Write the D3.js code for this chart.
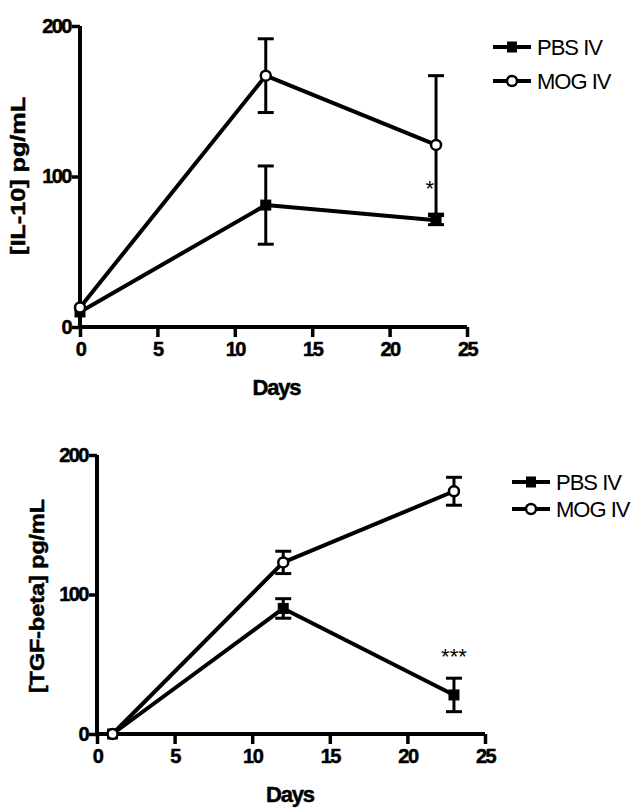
<!DOCTYPE html>
<html>
<head>
<meta charset="utf-8">
<script src="https://cdn.jsdelivr.net/npm/d3@7"></script>
<style>
  body { margin: 0; background: #fff; }
  svg { display: block; }
</style>
</head>
<body>
<svg id="chart" width="635" height="809"></svg>
<script>
// IL-10 panel
const il10Days = [0, 12, 23];
const il10Pbs = [10, 81, 71];
const il10PbsErr = [0, 26, 3];
const il10Mog = [13, 167, 121];
const il10MogErr = [0, 24.5, 46];

// TGF-beta panel
const tgfDays = [1, 12, 23];
const tgfPbs = [0, 90, 28];
const tgfPbsErr = [0, 7, 12];
const tgfMog = [0, 123, 174];
const tgfMogErr = [0, 8, 10];

const xTicks = [0, 5, 10, 15, 20, 25];
const yTicks = [0, 100, 200];
const seriesNames = ["PBS IV", "MOG IV"];

const svg = d3.select("#chart");
const fontFamily = "'Liberation Sans', Arial, sans-serif";

function drawPanel(opts) {
    const x = d3.scaleLinear().domain([0, 25]).range([opts.left, opts.right]);
    const y = d3.scaleLinear().domain([0, 200]).range([opts.bottom, opts.top]);
    const g = svg.append("g");

    const lineGenerator = d3.line()
        .x(d => x(d.day))
        .y(d => y(d.value));

    const pbs = opts.days.map((d, i) => ({day: d, value: opts.pbs[i], err: opts.pbsErr[i]}));
    const mog = opts.days.map((d, i) => ({day: d, value: opts.mog[i], err: opts.mogErr[i]}));

    // error bars
    [pbs, mog].forEach(series => {
        series.filter(d => d.err > 0).forEach(d => {
            const cx = x(d.day);
            g.append("line")
                .attr("x1", cx).attr("x2", cx)
                .attr("y1", y(d.value + d.err)).attr("y2", y(d.value - d.err))
                .attr("stroke", "#000").attr("stroke-width", 3);
            [d.value + d.err, d.value - d.err].forEach(v => {
                g.append("line")
                    .attr("x1", cx - 8).attr("x2", cx + 8)
                    .attr("y1", y(v)).attr("y2", y(v))
                    .attr("stroke", "#000").attr("stroke-width", 3);
            });
        });
    });

    // lines
    [pbs, mog].forEach(series => {
        g.append("path")
            .attr("d", lineGenerator(series))
            .attr("fill", "none")
            .attr("stroke", "#000")
            .attr("stroke-width", 4)
            .attr("stroke-linejoin", "round");
    });

    // axes
    const xAxis = d3.axisBottom(x).tickValues(xTicks).tickSize(10).tickSizeOuter(0).tickPadding(5);
    const yAxis = d3.axisLeft(y).tickValues(yTicks).tickSize(8).tickSizeOuter(0).tickPadding(1);

    const gx = g.append("g").attr("transform", `translate(0,${opts.bottom})`).call(xAxis);
    const gy = g.append("g").attr("transform", `translate(${opts.left},0)`).call(yAxis);
    [gx, gy].forEach(ax => {
        ax.select(".domain").attr("stroke-width", 4).attr("stroke", "#000");
        ax.selectAll(".tick line").attr("stroke-width", 3.5).attr("stroke", "#000");
        ax.selectAll(".tick text")
            .attr("fill", "#000")
            .attr("stroke", "#000")
            .attr("stroke-width", 0.5)
            .style("font-family", fontFamily)
            .style("font-weight", "bold")
            .style("font-size", "20px")
            .style("letter-spacing", "-1.5px");
    });
    gx.select(".domain").attr("d", `M${opts.left - 2},0H${opts.right}`);
    gy.select(".domain").attr("d", `M0,${opts.top}V${opts.bottom + 2}`);

    // markers
    g.selectAll(".pbs-marker")
        .data(pbs)
        .join("rect")
        .attr("x", d => x(d.day) - 5.5)
        .attr("y", d => y(d.value) - 5.5)
        .attr("width", 11).attr("height", 11)
        .attr("fill", "#000");
    g.selectAll(".mog-marker")
        .data(mog)
        .join("circle")
        .attr("cx", d => x(d.day))
        .attr("cy", d => y(d.value))
        .attr("r", 5)
        .attr("fill", "#fff")
        .attr("stroke", "#000")
        .attr("stroke-width", 2.5);

    // axis titles
    g.append("text")
        .attr("x", (opts.left + opts.right) / 2 + opts.daysDx)
        .attr("y", opts.bottom + 68)
        .attr("text-anchor", "middle")
        .attr("stroke", "#000")
        .attr("stroke-width", 0.5)
        .style("font-family", fontFamily)
        .style("font-weight", "bold")
        .style("font-size", "22px")
        .style("letter-spacing", "-1.2px")
        .text("Days");

    g.append("text")
        .attr("transform", `translate(${opts.yLabelX},${opts.yLabelY}) rotate(-90)`)
        .attr("text-anchor", "middle")
        .attr("textLength", opts.yLabelLen)
        .attr("lengthAdjust", "spacingAndGlyphs")
        .attr("stroke", "#000")
        .attr("stroke-width", 0.5)
        .style("font-family", fontFamily)
        .style("font-weight", "bold")
        .style("font-size", "20px")
        .text(opts.yLabel);

    // significance mark
    g.append("text")
        .attr("x", x(opts.starDay))
        .attr("y", y(opts.starValue))
        .attr("text-anchor", "middle")
        .style("font-family", fontFamily)
        .style("font-size", "22px")
        .text(opts.star);

    // legend
    const legend = g.append("g").attr("transform", `translate(${opts.legendX},${opts.legendY})`);
    seriesNames.forEach((name, i) => {
        const ly = i * opts.legendGap;
        legend.append("line")
            .attr("x1", 0).attr("x2", 38)
            .attr("y1", ly).attr("y2", ly)
            .attr("stroke", "#000").attr("stroke-width", 4);
        if (i === 0) {
            legend.append("rect")
                .attr("x", 19 - 5).attr("y", ly - 5.5)
                .attr("width", 10).attr("height", 11)
                .attr("fill", "#000");
        } else {
            legend.append("circle")
                .attr("cx", 19).attr("cy", ly)
                .attr("r", 5)
                .attr("fill", "#fff").attr("stroke", "#000").attr("stroke-width", 2.5);
        }
        legend.append("text")
            .attr("x", 44)
            .attr("y", ly + 8)
            .style("font-family", fontFamily)
            .style("font-size", "22px")
            .style("letter-spacing", "-1px")
            .text(name);
    });
}

drawPanel({
    left: 80, right: 467, top: 26, bottom: 327,
    days: il10Days, pbs: il10Pbs, pbsErr: il10PbsErr, mog: il10Mog, mogErr: il10MogErr,
    yLabel: "[IL-10] pg/mL", yLabelX: 25, yLabelY: 176, yLabelLen: 158,
    daysDx: 3,
    star: "*", starDay: 22.6, starValue: 87,
    legendX: 493, legendY: 47, legendGap: 34
});

drawPanel({
    left: 97, right: 485, top: 455, bottom: 734,
    days: tgfDays, pbs: tgfPbs, pbsErr: tgfPbsErr, mog: tgfMog, mogErr: tgfMogErr,
    yLabel: "[TGF-beta] pg/mL", yLabelX: 44, yLabelY: 596, yLabelLen: 194,
    daysDx: -1,
    star: "***", starDay: 23, starValue: 50,
    legendX: 512, legendY: 482, legendGap: 27
});
</script>
</body>
</html>
